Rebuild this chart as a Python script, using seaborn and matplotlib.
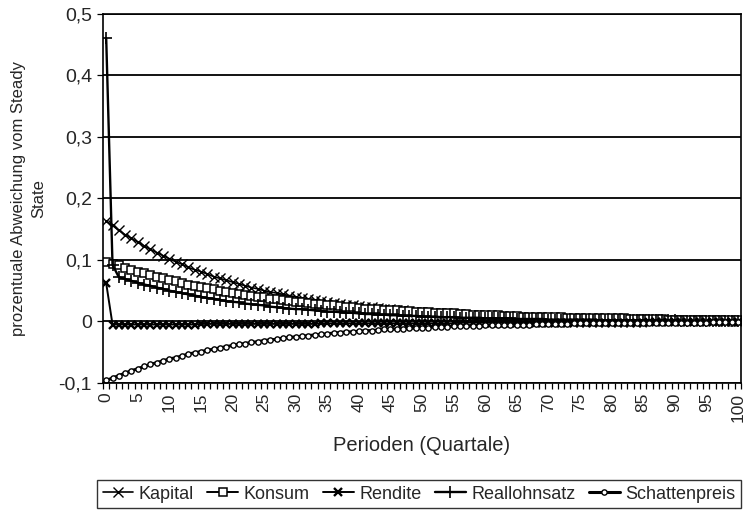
"""
Impulse responses (deviation from steady state) over 100 quarters.
"""

import matplotlib

matplotlib.use("Agg")
import matplotlib.pyplot as plt
import numpy as np
import pandas as pd
import seaborn as sns
from matplotlib.lines import Line2D
from matplotlib.ticker import FixedLocator, MultipleLocator

PERIODS = list(range(0, 101))

KAPITAL = [
    0.163, 0.156, 0.148, 0.141, 0.135, 0.129, 0.123, 0.117, 0.112, 0.107, 0.102,
    0.097, 0.093, 0.088, 0.084, 0.081, 0.077, 0.073, 0.070, 0.067, 0.064,
    0.061, 0.058, 0.055, 0.053, 0.050, 0.048, 0.046, 0.044, 0.042, 0.040,
    0.038, 0.036, 0.035, 0.033, 0.031, 0.030, 0.029, 0.027, 0.026, 0.025,
    0.024, 0.023, 0.022, 0.021, 0.020, 0.019, 0.018, 0.017, 0.016, 0.016,
    0.015, 0.014, 0.013, 0.013, 0.012, 0.012, 0.011, 0.011, 0.010, 0.010,
    0.009, 0.009, 0.008, 0.008, 0.008, 0.007, 0.007, 0.007, 0.006, 0.006,
    0.006, 0.005, 0.005, 0.005, 0.005, 0.004, 0.004, 0.004, 0.004, 0.004,
    0.003, 0.003, 0.003, 0.003, 0.003, 0.003, 0.003, 0.002, 0.002, 0.002,
    0.002, 0.002, 0.002, 0.002, 0.002, 0.002, 0.002, 0.001, 0.001, 0.001,
]

KONSUM = [
    0.097, 0.094, 0.091, 0.087, 0.084, 0.081, 0.078, 0.075, 0.073, 0.070, 0.067,
    0.065, 0.063, 0.060, 0.058, 0.056, 0.054, 0.052, 0.050, 0.048, 0.047,
    0.045, 0.043, 0.042, 0.040, 0.039, 0.037, 0.036, 0.035, 0.033, 0.032,
    0.031, 0.030, 0.029, 0.028, 0.027, 0.026, 0.025, 0.024, 0.023, 0.022,
    0.021, 0.021, 0.020, 0.019, 0.018, 0.018, 0.017, 0.017, 0.016, 0.015,
    0.015, 0.014, 0.014, 0.013, 0.013, 0.012, 0.012, 0.011, 0.011, 0.010,
    0.010, 0.010, 0.009, 0.009, 0.009, 0.008, 0.008, 0.008, 0.007, 0.007,
    0.007, 0.007, 0.006, 0.006, 0.006, 0.006, 0.005, 0.005, 0.005, 0.005,
    0.005, 0.005, 0.004, 0.004, 0.004, 0.004, 0.004, 0.004, 0.003, 0.003,
    0.003, 0.003, 0.003, 0.003, 0.003, 0.003, 0.003, 0.002, 0.002, 0.002,
]

RENDITE = [
    0.062, -0.005, -0.005, -0.005, -0.005, -0.005, -0.005, -0.005, -0.005, -0.005, -0.005,
    -0.005, -0.005, -0.005, -0.005, -0.004, -0.004, -0.004, -0.004, -0.004, -0.004,
    -0.004, -0.004, -0.004, -0.004, -0.004, -0.004, -0.004, -0.004, -0.004, -0.004,
    -0.004, -0.004, -0.004, -0.003, -0.003, -0.003, -0.003, -0.003, -0.003, -0.003,
    -0.003, -0.003, -0.003, -0.003, -0.003, -0.003, -0.003, -0.003, -0.003, -0.003,
    -0.003, -0.003, -0.003, -0.003, -0.003, -0.002, -0.002, -0.002, -0.002, -0.002,
    -0.002, -0.002, -0.002, -0.002, -0.002, -0.002, -0.002, -0.002, -0.002, -0.002,
    -0.002, -0.002, -0.002, -0.002, -0.002, -0.002, -0.002, -0.002, -0.002, -0.002,
    -0.002, -0.002, -0.002, -0.002, -0.002, -0.001, -0.001, -0.001, -0.001, -0.001,
    -0.001, -0.001, -0.001, -0.001, -0.001, -0.001, -0.001, -0.001, -0.001, -0.001,
]

REALLOHNSATZ = [
    0.460, 0.092, 0.072, 0.069, 0.066, 0.063, 0.060, 0.058, 0.055, 0.053, 0.050,
    0.048, 0.046, 0.044, 0.042, 0.040, 0.038, 0.037, 0.035, 0.033, 0.032,
    0.031, 0.029, 0.028, 0.027, 0.026, 0.024, 0.023, 0.022, 0.021, 0.020,
    0.020, 0.019, 0.018, 0.017, 0.016, 0.016, 0.015, 0.014, 0.014, 0.013,
    0.012, 0.012, 0.011, 0.011, 0.010, 0.010, 0.009, 0.009, 0.009, 0.008,
    0.008, 0.008, 0.007, 0.007, 0.007, 0.006, 0.006, 0.006, 0.006, 0.005,
    0.005, 0.005, 0.005, 0.005, 0.004, 0.004, 0.004, 0.004, 0.004, 0.003,
    0.003, 0.003, 0.003, 0.003, 0.003, 0.003, 0.003, 0.002, 0.002, 0.002,
    0.002, 0.002, 0.002, 0.002, 0.002, 0.002, 0.002, 0.002, 0.002, 0.002,
    0.001, 0.001, 0.001, 0.001, 0.001, 0.001, 0.001, 0.001, 0.001, 0.001,
]

SCHATTENPREIS = [
    -0.096, -0.092, -0.088, -0.084, -0.080, -0.077, -0.073, -0.070, -0.067, -0.064, -0.061,
    -0.059, -0.056, -0.053, -0.051, -0.049, -0.047, -0.045, -0.043, -0.041, -0.039,
    -0.037, -0.036, -0.034, -0.033, -0.031, -0.030, -0.029, -0.027, -0.026, -0.025,
    -0.024, -0.023, -0.022, -0.021, -0.020, -0.019, -0.018, -0.017, -0.017, -0.016,
    -0.015, -0.015, -0.014, -0.013, -0.013, -0.012, -0.012, -0.011, -0.011, -0.010,
    -0.010, -0.009, -0.009, -0.009, -0.008, -0.008, -0.007, -0.007, -0.007, -0.006,
    -0.006, -0.006, -0.006, -0.005, -0.005, -0.005, -0.005, -0.004, -0.004, -0.004,
    -0.004, -0.004, -0.004, -0.003, -0.003, -0.003, -0.003, -0.003, -0.003, -0.003,
    -0.002, -0.002, -0.002, -0.002, -0.002, -0.002, -0.002, -0.002, -0.002, -0.002,
    -0.002, -0.002, -0.002, -0.002, -0.002, -0.001, -0.001, -0.001, -0.001, -0.001,
]

Y_TICKS = [-0.1, 0.0, 0.1, 0.2, 0.3, 0.4, 0.5]
Y_TICK_LABELS = ["-0,1", "0", "0,1", "0,2", "0,3", "0,4", "0,5"]

# name, values, marker, marker size, marker edge width, line width
SERIES = [
    ("Kapital", KAPITAL, "x", 6.5, 1.0, 1.2),
    ("Konsum", KONSUM, "s", 5.5, 1.1, 1.4),
    ("Rendite", RENDITE, "x", 6, 1.7, 1.4),
    ("Reallohnsatz", REALLOHNSATZ, "+", 8.5, 1.2, 1.7),
    ("Schattenpreis", SCHATTENPREIS, "o", 3.8, 1.0, 2.2),
]


def create_chart() -> None:
    sns.set_style("white")
    plt.rcParams["font.family"] = ["Liberation Sans", "DejaVu Sans"]

    fig = plt.figure(figsize=(7.44, 5.13), dpi=100)
    ax = fig.add_axes([0.1385, 0.2535, 0.8575, 0.7195])

    handles = []
    for name, values, marker, size, edge, width in SERIES:
        frame = pd.DataFrame({"Periode": PERIODS, "Wert": values})
        sns.lineplot(
            data=frame,
            x="Periode",
            y="Wert",
            ax=ax,
            color="black",
            linewidth=width,
            marker=marker,
            markersize=size,
            markeredgewidth=edge,
            markerfacecolor="white",
            markeredgecolor="black",
        )
        handles.append(
            Line2D(
                [0], [0],
                color="black",
                linewidth=width,
                marker=marker,
                markersize=size,
                markeredgewidth=edge,
                markerfacecolor="white",
                markeredgecolor="black",
                label=name,
            )
        )

    ax.set_xlim(-0.5, 100.5)
    ax.set_ylim(-0.1, 0.5)

    ax.set_yticks(Y_TICKS)
    ax.set_yticklabels(Y_TICK_LABELS, fontsize=14)
    ax.yaxis.grid(True, color="black", linewidth=1.3)
    ax.xaxis.grid(False)

    ax.xaxis.set_major_locator(FixedLocator(np.arange(0, 101, 5)))
    ax.set_xticklabels([str(v) for v in range(0, 101, 5)], rotation=90,
                       fontsize=12.5)
    ax.xaxis.set_minor_locator(MultipleLocator(1.0, offset=0.5))
    ax.tick_params(axis="x", which="major", length=0, pad=7)
    ax.tick_params(axis="x", which="minor", length=4, width=0.9, color="black",
                   direction="out", bottom=True)
    ax.tick_params(axis="y", which="major", length=4, width=0.9, color="black",
                   direction="out", left=True, pad=4)

    for spine in ax.spines.values():
        spine.set_visible(True)
        spine.set_color("black")
        spine.set_linewidth(1.2)

    ax.set_xlabel("Perioden (Quartale)", fontsize=14.5, labelpad=10)
    ax.set_ylabel("prozentuale Abweichung vom Steady\nState", fontsize=12,
                  labelpad=9, linespacing=1.4)

    fig.legend(
        handles=handles,
        loc="center",
        bbox_to_anchor=(0.563, 0.037),
        ncol=5,
        frameon=True,
        edgecolor="black",
        fancybox=False,
        fontsize=13,
        handlelength=1.7,
        handletextpad=0.3,
        columnspacing=0.75,
        borderpad=0.3,
    )

    fig.savefig("out.png", dpi=100)


if __name__ == "__main__":
    create_chart()
